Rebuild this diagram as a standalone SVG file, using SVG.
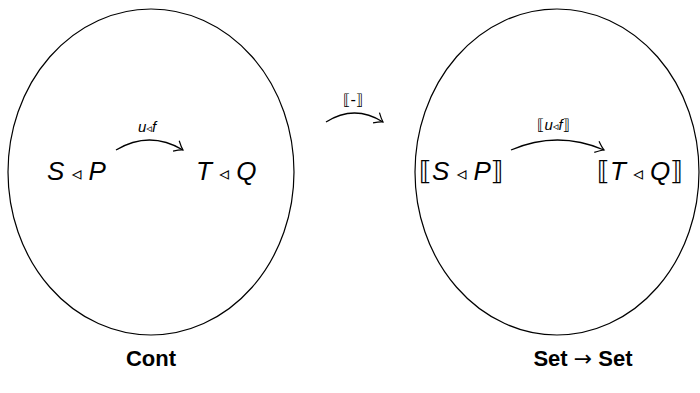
<svg xmlns="http://www.w3.org/2000/svg" width="700" height="393" viewBox="0 0 700 393">
<style>
.bg{fill:#fff}
.ell{fill:none;stroke:#000;stroke-width:1.2}
.m{font-family:"Liberation Sans","DejaVu Sans",sans-serif;font-style:italic;font-size:26px;fill:#000}
.s{font-family:"Liberation Sans","DejaVu Sans",sans-serif;font-style:italic;font-size:15px;fill:#000}
.up{font-style:normal;font-family:"DejaVu Sans",sans-serif;fill:#000}
.tri{font-style:normal;font-family:"DejaVu Sans",sans-serif;font-size:0.75em;fill:#000}
.b{font-family:"Liberation Sans",sans-serif;font-weight:bold;font-size:22px;fill:#000}
.ar{font-family:"DejaVu Sans",sans-serif;font-weight:normal}
.arr{fill:none;stroke:#000;stroke-width:1.3;marker-end:url(#ah)}
</style>
<defs>
<marker id="ah" markerUnits="userSpaceOnUse" markerWidth="14" markerHeight="14" refX="0" refY="0" viewBox="-10 -7 12 14" orient="auto">
<path d="M-8,-6 Q-3,-1.5 0,0 Q-3,1.5 -8,6" fill="none" stroke="#000" stroke-width="1.2"/>
</marker>
</defs>
<rect class="bg" width="700" height="393"/>
<g id="cont">
<ellipse class="ell" cx="151" cy="172" rx="143" ry="163"/>
<text class="b" x="151" y="366" text-anchor="middle">Cont</text>
</g>
<g id="setset">
<ellipse class="ell" cx="557" cy="172" rx="142" ry="163"/>
<text class="b" x="583" y="366" text-anchor="middle">Set <tspan class="ar">→</tspan> Set</text>
</g>
<g id="SP">
<text class="m" x="47" y="180">S <tspan class="tri">◃</tspan> P</text>
</g>
<g id="TQ">
<text class="m" x="196" y="180">T <tspan class="tri">◃</tspan> Q</text>
</g>
<g id="semSP">
<text class="m" x="419" y="180"><tspan class="up">⟦</tspan>S <tspan class="tri">◃</tspan> P<tspan class="up">⟧</tspan></text>
</g>
<g id="semTQ">
<text class="m" x="597" y="180"><tspan class="up">⟦</tspan>T <tspan class="tri">◃</tspan> Q<tspan class="up">⟧</tspan></text>
</g>
<g id="connectors">
<path class="arr" d="M116,150 Q149.5,130 183,150"/>
<path class="arr" d="M326,122 Q354.5,104 383,122"/>
<path class="arr" d="M511,150 Q557.5,130 604,150"/>
</g>
<g id="labels">
<text class="s" x="138" y="132"><tspan>u</tspan><tspan class="tri">◃</tspan><tspan>f</tspan></text>
<text class="s" x="343" y="105"><tspan class="up">⟦</tspan><tspan class="up">-</tspan><tspan class="up">⟧</tspan></text>
<text class="s" x="537" y="130"><tspan class="up">⟦</tspan>u<tspan class="tri">◃</tspan>f<tspan class="up">⟧</tspan></text>
</g>
</svg>
